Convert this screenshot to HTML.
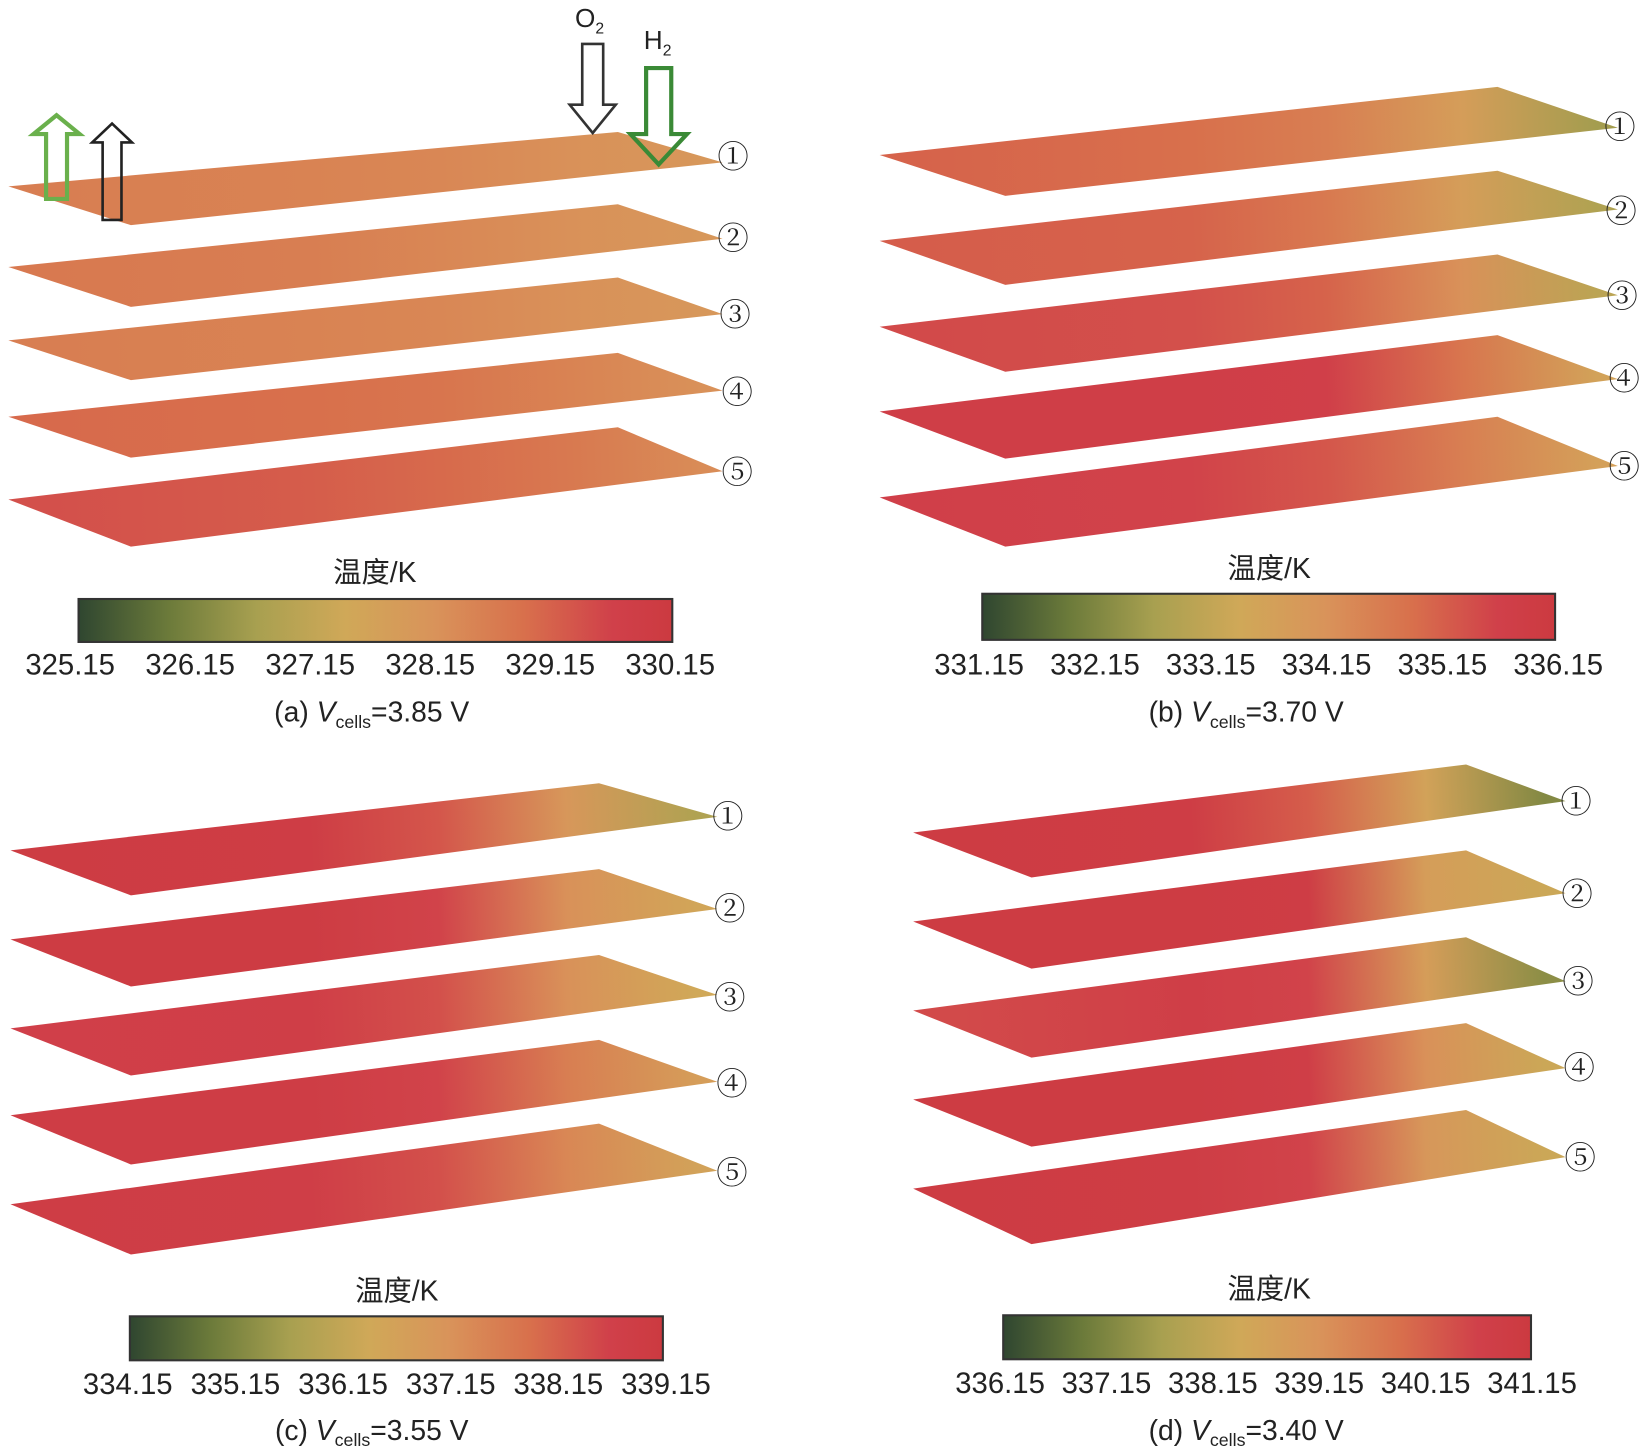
<!DOCTYPE html>
<html><head><meta charset="utf-8">
<style>
html,body{margin:0;padding:0;background:#fff;}
svg{display:block;}
text{font-family:"Liberation Sans","Noto Sans CJK SC",sans-serif;fill:#222;}
</style></head>
<body>
<svg id="fig" width="1642" height="1451" viewBox="0 0 1568 1385.6" preserveAspectRatio="none" xmlns="http://www.w3.org/2000/svg">
<defs id="defs"></defs>
<g id="panels"></g>
<g id="arrows">
  <polygon points="44,190 64,190 64,128 76,128 54,110 32,128 44,128" fill="none" stroke="#6ab04c" stroke-width="4"/>
  <polygon points="98,210 116,210 116,136 126,136 107,118 88,136 98,136" fill="none" stroke="#222" stroke-width="2.5"/>
  <polygon points="556,42 576,42 576,100 588,100 566,127 544,100 556,100" fill="none" stroke="#333" stroke-width="2.5"/>
  <polygon points="617,65 641,65 641,128 656,128 629,157 602,128 617,128" fill="none" stroke="#3a8a36" stroke-width="4"/>
  <text x="563" y="26" font-size="25" text-anchor="middle">O<tspan font-size="15" dy="6">2</tspan></text>
  <text x="628" y="47" font-size="25" text-anchor="middle">H<tspan font-size="15" dy="6">2</tspan></text>
</g>
</svg>
<script>
// colormap stops
const cmapPos = [0, 0.15, 0.3, 0.45, 0.6, 0.75, 0.9, 1];
const cmapCol = ["#2f4630","#6b7a3a","#a8a050","#d0a858","#d9935a","#d8704c","#d0404a","#cc3a40"];
// sampling positions along each plate (fraction left->right)
const samplePos = [0, 0.4, 0.6, 0.8, 1];
// temperature ranges
const rangeA = [325.15, 330.15], rangeB = [331.15, 336.15], rangeC = [334.15, 339.15], rangeD = [336.15, 341.15];
const ticksA = ["325.15","326.15","327.15","328.15","329.15","330.15"];
const ticksB = ["331.15","332.15","333.15","334.15","335.15","336.15"];
const ticksC = ["334.15","335.15","336.15","337.15","338.15","339.15"];
const ticksD = ["336.15","337.15","338.15","339.15","340.15","341.15"];
// temperatures per plate
const tempsA = [[328.6,328.5,328.4,328.2,328.0],[328.7,328.6,328.4,328.2,328.0],[328.6,328.5,328.4,328.2,328.0],[329.0,328.9,328.8,328.5,328.2],[329.4,329.2,329.0,328.7,328.3]];
const tempsB = [[335.1,334.9,334.6,333.8,332.6],[335.2,335.1,334.7,333.8,332.8],[335.5,335.4,335.1,334.2,333.0],[335.8,335.8,335.7,334.8,333.6],[335.7,335.6,335.3,334.6,333.7]];
const tempsC = [[339.0,338.9,338.3,337.0,335.8],[339.0,339.0,338.6,337.2,336.5],[338.7,338.8,338.4,337.2,336.4],[338.9,338.9,338.6,337.6,336.8],[338.9,338.8,338.4,337.4,336.6]];
const tempsD = [[341.0,340.9,340.2,338.6,337.2],[341.0,341.0,340.9,338.8,338.3],[340.5,340.8,340.6,338.8,337.3],[341.0,341.0,340.8,339.2,338.3],[341.0,340.9,340.6,339.0,338.3]];
const voltages = ["3.85","3.70","3.55","3.40"];

const layouts = [
 {id:"a", temps:tempsA, range:rangeA, ticks:ticksA, xs:[8,125,590,690],
  plates:[[178,215,126,155],[255,293,195,228],[325,363,265,300],[398,437,337,373],[477,522,408,450]],
  labels:[[700,150],[700,228],[702,301],[704,375],[704,451]],
  cb:[75,572,642,613], tx:[67,640], title:[358,556], tickY:644, cap:[355,689]},
 {id:"b", temps:tempsB, range:rangeB, ticks:ticksB, xs:[840,960,1430,1545],
  plates:[[148,187,83,122],[230,272,163,200],[312,355,243,282],[393,438,320,362],[475,522,398,445]],
  labels:[[1547,122],[1548,202],[1549,283],[1551,362],[1551,446]],
  cb:[938,567,1485,611], tx:[935,1488], title:[1212,552], tickY:644, cap:[1190,689]},
 {id:"c", temps:tempsC, range:rangeC, ticks:ticksC, xs:[10,125,572,685],
  plates:[[812,855,748,780],[897,942,830,868],[982,1027,912,950],[1065,1112,993,1033],[1150,1198,1073,1118]],
  labels:[[695,780],[697,868],[697,953],[699,1035],[699,1120]],
  cb:[124,1257,633,1299], tx:[122,636], title:[379,1242], tickY:1331, cap:[355,1375]},
 {id:"d", temps:tempsD, range:rangeD, ticks:ticksD, xs:[872,985,1400,1495],
  plates:[[795,838,730,765],[880,925,812,853],[965,1010,895,937],[1050,1095,977,1020],[1135,1188,1060,1105]],
  labels:[[1505,766],[1506,854],[1507,938],[1508,1020],[1509,1106]],
  cb:[958,1256,1462,1298], tx:[955,1463], title:[1212,1240], tickY:1330, cap:[1190,1375]}
];
const NS="http://www.w3.org/2000/svg";
const defs=document.getElementById('defs'), root=document.getElementById('panels');
function hex2rgb(h){return [1,3,5].map(i=>parseInt(h.substr(i,2),16));}
function cmap(f){f=Math.max(0,Math.min(1,f));
 for(let i=0;i<cmapPos.length-1;i++){if(f<=cmapPos[i+1]){const t=(f-cmapPos[i])/(cmapPos[i+1]-cmapPos[i]);
  const a=hex2rgb(cmapCol[i]),b=hex2rgb(cmapCol[i+1]);return 'rgb('+a.map((v,k)=>Math.round(v+(b[k]-v)*t)).join(',')+')';}}
 return cmapCol[cmapCol.length-1];}
function el(tag,attrs,parent){const e=document.createElementNS(NS,tag);for(const k in attrs)e.setAttribute(k,attrs[k]);parent.appendChild(e);return e;}
const circ=["①","②","③","④","⑤"];
const cbg=el('linearGradient',{id:'cbgrad',x1:0,x2:1,y1:0,y2:0},defs);
cmapPos.forEach((p,i)=>el('stop',{offset:p,'stop-color':cmapCol[i]},cbg));
layouts.forEach(L=>{
 const g=el('g',{},root);
 
 
 const [xL,xB,xT,xR]=L.xs;
 L.temps.forEach((row,pi)=>{
  const [yL,yB,yT,yR]=L.plates[pi];
  const gid='g'+L.id+pi;
  const lg=el('linearGradient',{id:gid,gradientUnits:'userSpaceOnUse',x1:xL+40,y1:yL,x2:xR-20,y2:yR},defs);
  row.forEach((t,k)=>el('stop',{offset:samplePos[k],'stop-color':cmap((t-L.range[0])/(L.range[1]-L.range[0]))},lg));
  const poly=el('polygon',{points:`${xL},${yL} ${xT},${yT} ${xR},${yR} ${xB},${yB}`,fill:`url(#${gid})`},g);
  
  
  const lb=el('text',{x:L.labels[pi][0],y:L.labels[pi][1]+10,'font-size':30,'text-anchor':'middle',style:'font-family:"Noto Serif CJK SC","DejaVu Serif",serif'},g);
  lb.textContent=circ[pi];
  
  
 });
 const [cx0,cy0,cx1,cy1]=L.cb;
 const r=el('rect',{x:cx0,y:cy0,width:cx1-cx0,height:cy1-cy0,fill:'url(#cbgrad)',stroke:'#333','stroke-width':2},g);
 
 
 const tt=el('text',{x:L.title[0],y:L.title[1],'font-size':27,'text-anchor':'middle'},g);
 tt.textContent='温度/K';
 
 
 L.ticks.forEach((s,i)=>{
  const x=L.tx[0]+(L.tx[1]-L.tx[0])*i/(L.ticks.length-1);
  const t=el('text',{x:x,y:L.tickY,'font-size':28,'text-anchor':'middle'},g);
  t.textContent=s;
  
  
 });
 const cap=el('text',{x:L.cap[0],y:L.cap[1],'font-size':27,'text-anchor':'middle'},g);
 cap.innerHTML=`(${L.id}) <tspan font-style="italic">V</tspan><tspan font-size="17" dy="6">cells</tspan><tspan dy="-6">=${voltages["abcd".indexOf(L.id)]} V</tspan>`;
 
 
});
</script>
</body></html>
